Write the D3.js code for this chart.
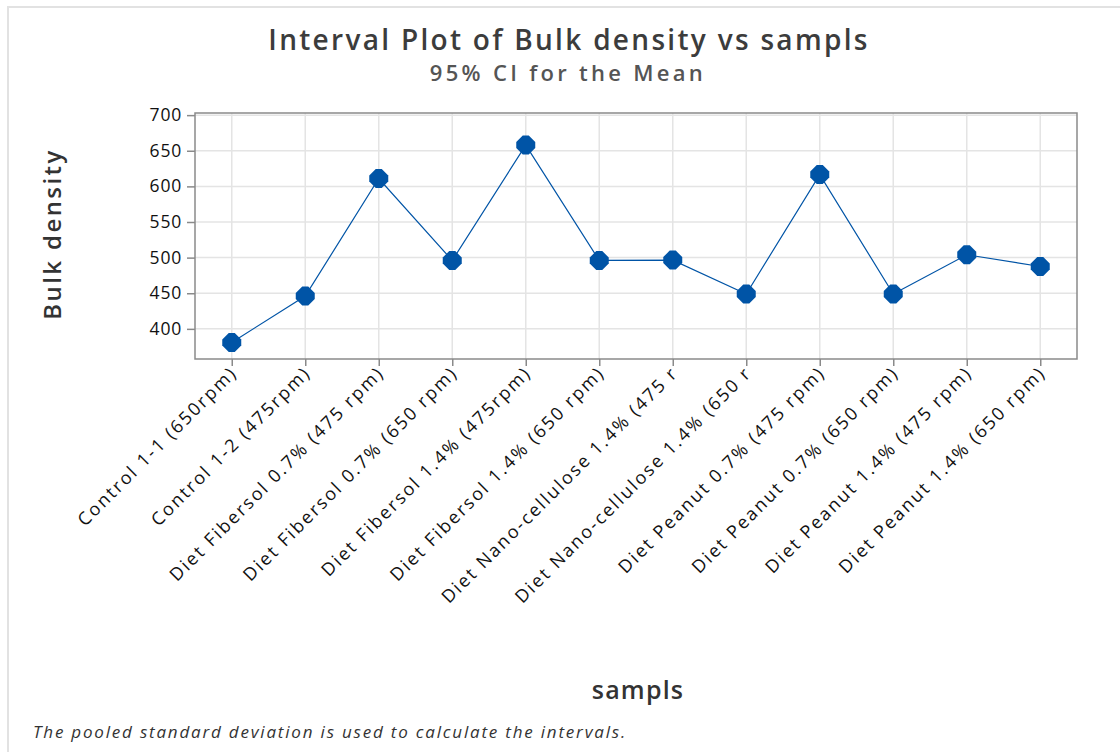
<!DOCTYPE html>
<html>
<head>
<meta charset="utf-8">
<script src="https://cdn.jsdelivr.net/npm/d3@7"></script>
<style>
  html, body { margin: 0; padding: 0; background: #fff; }
  svg { display: block; }
</style>
</head>
<body>
<svg id="chart" width="1120" height="752"></svg>
<script>
const categories = [
  "Control 1-1 (650rpm)",
  "Control 1-2 (475rpm)",
  "Diet Fibersol 0.7% (475 rpm)",
  "Diet Fibersol 0.7% (650 rpm)",
  "Diet Fibersol 1.4% (475rpm)",
  "Diet Fibersol 1.4% (650 rpm)",
  "Diet Nano-cellulose 1.4% (475 r",
  "Diet Nano-cellulose 1.4% (650 r",
  "Diet Peanut 0.7% (475 rpm)",
  "Diet Peanut 0.7% (650 rpm)",
  "Diet Peanut 1.4% (475 rpm)",
  "Diet Peanut 1.4% (650 rpm)"
];
const means = [381, 446, 611, 496, 658, 496, 496.5, 449, 616.5, 449, 504, 487.5];
const yTicks = [400, 450, 500, 550, 600, 650, 700];
const yDomain = [357.7, 703];

const titleText = "Interval Plot of Bulk density vs sampls";
const subtitleText = "95% CI for the Mean";
const xTitle = "sampls";
const yTitle = "Bulk density";
const footnote = "The pooled standard deviation is used to calculate the intervals.";

const svg = d3.select("#chart");
const font = "'Open Sans', 'Noto Sans', sans-serif";
const blue = "#0054a6";

// page border (top / left)
svg.append("line").attr("x1", 7).attr("x2", 1120).attr("y1", 7).attr("y2", 7)
  .attr("stroke", "#e2e2e2").attr("stroke-width", 2);
svg.append("line").attr("x1", 8).attr("x2", 8).attr("y1", 7).attr("y2", 752)
  .attr("stroke", "#e2e2e2").attr("stroke-width", 2);

const L = 195, R = 1077, T = 113, B = 359;

const x = d3.scalePoint().domain(categories).range([L, R]).padding(0.5);
const y = d3.scaleLinear().domain(yDomain).range([B, T]);

// gridlines
const grid = svg.append("g");
grid.selectAll(".hg").data(yTicks).join("line")
  .attr("x1", L).attr("x2", R)
  .attr("y1", d => y(d)).attr("y2", d => y(d))
  .attr("stroke", "#e4e4e4").attr("stroke-width", 1.5);
grid.selectAll(".vg").data(categories).join("line")
  .attr("x1", d => x(d)).attr("x2", d => x(d))
  .attr("y1", T).attr("y2", B)
  .attr("stroke", "#e4e4e4").attr("stroke-width", 1.5);

// frame
svg.append("rect").attr("x", L).attr("y", T).attr("width", R - L).attr("height", B - T)
  .attr("fill", "none").attr("stroke", "#8a8a8a").attr("stroke-width", 1.5);

// y axis
const yAxis = svg.append("g").attr("transform", `translate(${L},0)`)
  .call(d3.axisLeft(y).tickValues(yTicks).tickSize(8).tickPadding(5));
yAxis.select(".domain").remove();
yAxis.selectAll(".tick line").attr("stroke", "#8a8a8a").attr("stroke-width", 1.5);
yAxis.selectAll(".tick text").attr("font-family", font).attr("font-size", 17.5)
  .attr("font-weight", 500).attr("letter-spacing", 0.8).attr("fill", "#111");

// x axis
const xAxis = svg.append("g").attr("transform", `translate(0,${B})`)
  .call(d3.axisBottom(x).tickSize(7).tickPadding(4));
xAxis.select(".domain").remove();
xAxis.selectAll(".tick line").attr("stroke", "#8a8a8a").attr("stroke-width", 1.5);
xAxis.selectAll(".tick text")
  .attr("font-family", font).attr("font-size", 18).attr("font-weight", 500)
  .attr("letter-spacing", 2.1).attr("fill", "#111")
  .attr("text-anchor", "end")
  .attr("dy", null)
  .attr("transform", "translate(6,15) rotate(-45)")
  .attr("x", 0).attr("y", 0);

// line
const line = d3.line().x((d, i) => x(categories[i])).y(d => y(d));
svg.append("path").datum(means).attr("d", line)
  .attr("fill", "none").attr("stroke", blue).attr("stroke-width", 1.2);

// markers (octagon-like diamond)
const r = 9.5, c = 3;
const octo = `M${-c},${-r}L${c},${-r}L${r},${-c}L${r},${c}L${c},${r}L${-c},${r}L${-r},${c}L${-r},${-c}Z`;
svg.selectAll(".pt").data(means).join("path")
  .attr("d", octo)
  .attr("transform", (d, i) => `translate(${x(categories[i])},${y(d)})`)
  .attr("fill", blue);

// titles
svg.append("text").attr("x", 569).attr("y", 50).attr("text-anchor", "middle")
  .attr("font-family", font).attr("font-size", 28).attr("font-weight", 600)
  .attr("fill", "#3c3c3c").attr("letter-spacing", 2.3).text(titleText);
svg.append("text").attr("x", 568).attr("y", 81).attr("text-anchor", "middle")
  .attr("font-family", font).attr("font-size", 22).attr("font-weight", 600)
  .attr("fill", "#555").attr("letter-spacing", 3.3)
  .text(subtitleText);

svg.append("text").attr("x", 638).attr("y", 699).attr("text-anchor", "middle")
  .attr("font-family", font).attr("font-size", 25).attr("font-weight", 600)
  .attr("letter-spacing", 1.2).attr("fill", "#333")
  .text(xTitle);

svg.append("text").attr("transform", `translate(61,${(T + B) / 2 - 2}) rotate(-90)`)
  .attr("text-anchor", "middle")
  .attr("font-family", font).attr("font-size", 24).attr("font-weight", 600)
  .attr("letter-spacing", 2.4).attr("fill", "#333")
  .text(yTitle);

svg.append("text").attr("x", 33).attr("y", 738)
  .attr("font-family", font).attr("font-size", 17).attr("font-style", "italic")
  .attr("letter-spacing", 1.8)
  .attr("fill", "#333").text(footnote);
</script>
</body>
</html>
